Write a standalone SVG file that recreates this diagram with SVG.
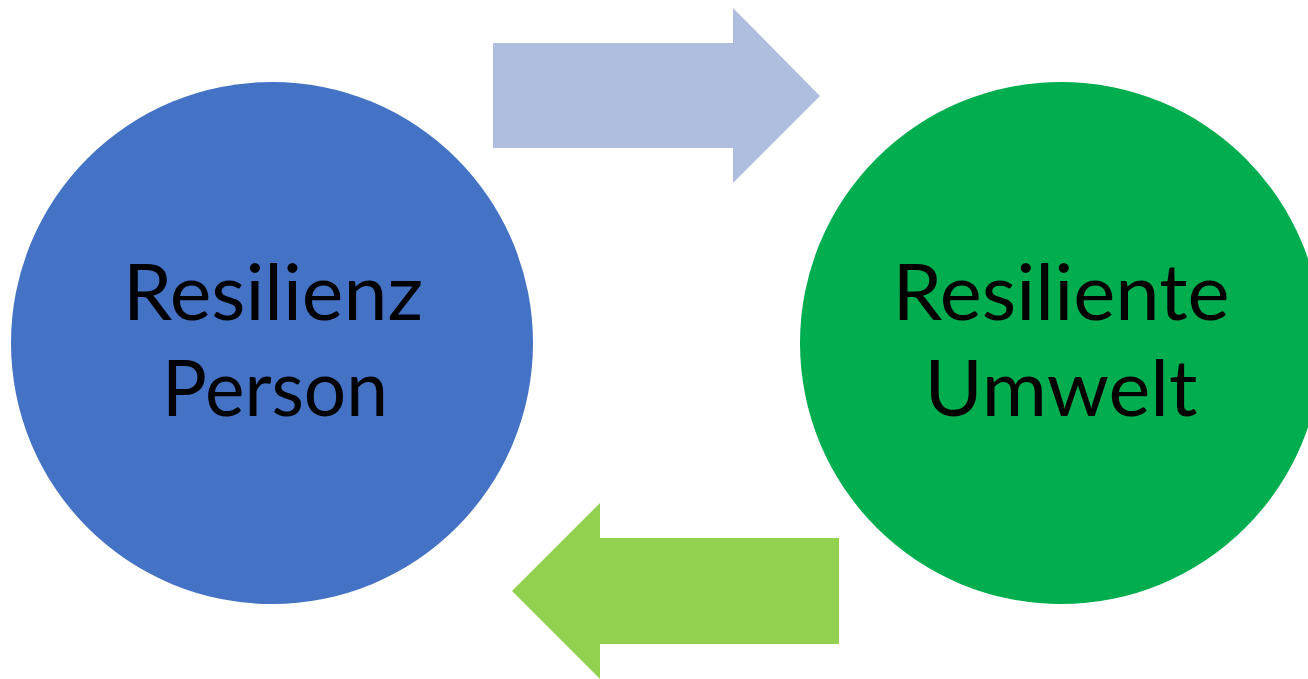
<svg xmlns="http://www.w3.org/2000/svg" width="1308" height="679" viewBox="0 0 1308 679">
<style>
.lbl{font-family:Lato,"Open Sans","Liberation Sans",sans-serif;font-size:78px;fill:#000;text-anchor:middle}
</style>
<rect width="1308" height="679" fill="#fff"/>
<g id="connectors">
<polygon id="arrow-right" points="493,43 733,43 733,8 820,96 733,183 733,148 493,148" fill="#AFBDDF"/>
<polygon id="arrow-left" points="839,538 600,538 600,503 512,591 600,679 600,644 839,644" fill="#92D050"/>
</g>
<g id="node-person">
<circle cx="272" cy="343" r="261" fill="#4472C4"/>
<text class="lbl" x="273" y="320" textLength="300" lengthAdjust="spacingAndGlyphs">Resilienz</text>
<text class="lbl" x="275" y="416" textLength="226" lengthAdjust="spacingAndGlyphs">Person</text>
</g>
<g id="node-umwelt">
<circle cx="1061" cy="343" r="261" fill="#00AD4F"/>
<text class="lbl" x="1061" y="320" textLength="337" lengthAdjust="spacingAndGlyphs">Resiliente</text>
<text class="lbl" x="1061" y="416" textLength="273" lengthAdjust="spacingAndGlyphs">Umwelt</text>
</g>
</svg>
